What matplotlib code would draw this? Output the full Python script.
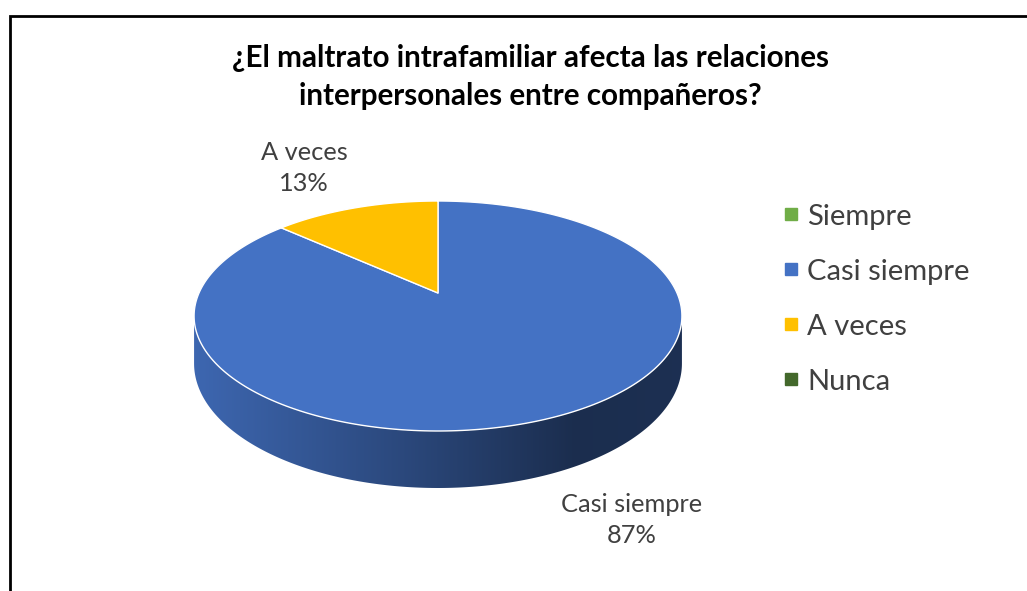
import numpy as np
import matplotlib.pyplot as plt
from matplotlib.patches import Polygon
from matplotlib.lines import Line2D
from matplotlib.colors import to_rgb, LinearSegmentedColormap

plt.rcParams['font.family'] = ['Lato', 'DejaVu Sans']

# data
categories = ['Siempre', 'Casi siempre', 'A veces', 'Nunca']
counts = [0, 13, 2, 0]
colors = ['#70AD47', '#4472C4', '#FFC000', '#43682B']
title = '¿El maltrato intrafamiliar afecta las relaciones\ninterpersonales entre compañeros?'

fig = plt.figure(figsize=(10.27, 5.91), dpi=100)
ax = fig.add_axes([0, 0, 1, 1])

# 3D pie geometry, in pixels (Excel style perspective)
cx, cy = 438, 293
rx, ry = 239, 110.4
persp = 0.2
depth = 45.6


def proj(theta, drop=0.0):
    # theta: degrees clockwise from 12 o'clock
    t = np.radians(theta)
    u = np.sin(t)
    v = -np.cos(t)
    w = 1 - persp * v
    return cx + rx * u / w, cy + (ry * v + drop) / w


def shade(c, f):
    r, g, b = to_rgb(c)
    return (r * f, g * f, b * f)


total = float(sum(counts))
ends = np.cumsum(counts) / total * 360
starts = ends - np.array(counts) / total * 360

# visible front of the side wall, between the two silhouette points
th_r = np.degrees(np.arccos(-persp))
th_l = 360 - th_r

# side walls
for s, e, c in zip(starts, ends, colors):
    a, b = max(s, th_r), min(e, th_l)
    if b <= a:
        continue
    th = np.linspace(a, b, 200)
    xt, yt = proj(th)
    xb, yb = proj(th[::-1], depth)
    pts = np.column_stack([np.r_[xt, xb], np.r_[yt, yb]])
    poly = Polygon(pts, closed=True, facecolor='none', edgecolor='none')
    ax.add_patch(poly)
    cmap = LinearSegmentedColormap.from_list(
        'side', [(0, shade(c, 0.90)), (0.45, shade(c, 0.62)),
                 (0.78, shade(c, 0.40)), (1, shade(c, 0.42))])
    grad = np.linspace(0, 1, 256).reshape(1, -1)
    im = ax.imshow(grad, extent=(pts[:, 0].min(), pts[:, 0].max(),
                                 pts[:, 1].max(), pts[:, 1].min()),
                   cmap=cmap, aspect='auto', zorder=1)
    im.set_clip_path(poly)

# top faces
for s, e, c in zip(starts, ends, colors):
    if e - s <= 0:
        continue
    th = np.linspace(s, e, 300)
    xs, ys = proj(th)
    pts = np.column_stack([np.r_[cx, xs], np.r_[cy, ys]])
    ax.add_patch(Polygon(pts, closed=True, facecolor=c, edgecolor='white',
                         linewidth=1.0, joinstyle='round', zorder=2))

# data labels
pct = [round(100 * n / total) for n in counts]
ax.text(304, 168, f'{categories[2]}\n{pct[2]}%', ha='center', va='center',
        fontsize=18.3, color='#404040', linespacing=1.45)
ax.text(632, 520, f'{categories[1]}\n{pct[1]}%', ha='center', va='center',
        fontsize=18.3, color='#404040', linespacing=1.45)

# title
ax.text(530, 77, title, ha='center', va='center', fontsize=21.3,
        fontweight='bold', color='black', linespacing=1.45)

# legend
handles = [Line2D([], [], marker='s', linestyle='none', markersize=9,
                  markerfacecolor=c, markeredgecolor=c) for c in colors]
ax.legend(handles, categories, loc='center left', bbox_to_anchor=(0.735, 0.494),
          frameon=False, fontsize=21, labelcolor='#404040',
          handletextpad=0.2, handlelength=0.7, labelspacing=0.995)

# chart frame (cut off at right/bottom)
ax.plot([9.5, 9.5, 1040], [600, 16, 16], color='black', linewidth=2.0,
        solid_joinstyle='miter', zorder=5)

ax.set_xlim(0, 1027)
ax.set_ylim(591, 0)
ax.axis('off')

fig.savefig('out.png', dpi=100)
